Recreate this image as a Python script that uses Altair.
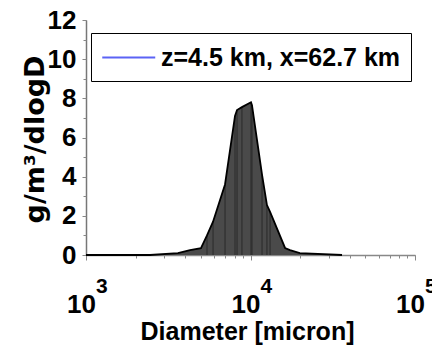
import altair as alt
import pandas as pd

# values
diameter = [1000, 2450, 3620, 4290, 5000, 5440, 5920, 7000, 8050, 8280,
            8870, 10070, 10210, 11750, 12590, 13150, 16220, 17380, 19950, 36000]
mass = [0, 0, 0.1, 0.25, 0.35, 1.0, 1.7, 3.6, 7.1, 7.4,
        7.55, 7.8, 7.65, 4.1, 2.55, 2.2, 0.36, 0.25, 0.1, 0]
series_name = "z=4.5 km, x=62.7 km"
y_major = [0, 2, 4, 6, 8, 10, 12]
y_minor = list(range(0, 13))
x_major = [1000, 10000, 100000]
x_exponent = ["3", "4", "5"]
x_minor = [m * 10 ** k for k in (3, 4) for m in range(1, 10)] + [100000]

df = pd.DataFrame({"D": diameter, "M": mass})
exp_df = pd.DataFrame({"D": x_major, "e": x_exponent})

FONT = "Liberation Sans, Arial, sans-serif"
WIDE = "DejaVu Sans, Arial, sans-serif"

x_scale = alt.Scale(type="log", domain=[1000, 100000], nice=False)
y_scale = alt.Scale(domain=[0, 12], nice=False)

x_main = alt.X(
    "D:Q", scale=x_scale,
    axis=alt.Axis(
        values=x_major,
        labelExpr="'10'",
        title="Diameter [micron]",
        titleFont=FONT, titleFontSize=25, titleFontWeight="bold", titleColor="black",
        titleX=161, titleY=84, titleBaseline="alphabetic", titleAlign="center",
        labelFont=FONT, labelFontSize=26, labelFontWeight="bold", labelColor="black",
        labelBaseline="alphabetic", labelPadding=52, labelAlign="center", labelOffset=-5,
        labelOverlap=False, labelFlush=False,
        tickSize=5, tickColor="#888888", domainColor="#888888", domainWidth=1.5,
        grid=False,
    ),
)
y_main = alt.Y(
    "M:Q", scale=y_scale,
    axis=alt.Axis(
        values=y_major,
        title="g/m³/dlogD",
        titleFont=WIDE, titleFontSize=27, titleFontWeight="bold", titleColor="black",
        titleAngle=270, titleX=-43, titleY=119, titleBaseline="alphabetic", titleAlign="center",
        labelFont=FONT, labelFontSize=26, labelFontWeight="bold", labelColor="black",
        labelPadding=6, labelOverlap=False, labelFlush=False,
        tickSize=4, tickColor="#888888", domainColor="#777777", domainWidth=1.5,
        grid=False,
    ),
)
x_min = alt.X(
    "D:Q", scale=x_scale,
    axis=alt.Axis(values=x_minor, labels=False, title=None, domain=False, grid=False,
                  orient="bottom", tickSize=3, tickColor="#888888"),
)
y_min = alt.Y(
    "M:Q", scale=y_scale,
    axis=alt.Axis(values=y_minor, labels=False, title=None, domain=False, grid=False,
                  orient="left", tickSize=3, tickColor="#888888"),
)

base = alt.Chart(df)

area = base.mark_area(color="#4a4a4a", opacity=1).encode(x=x_main, y=y_main)

rules = base.transform_filter("datum.M > 0.5").transform_calculate(
    Z="0"
).mark_rule(color="#2a2a2a", strokeWidth=1).encode(
    x=alt.X("D:Q", scale=x_scale, axis=None),
    y=alt.Y("Z:Q", scale=y_scale, axis=None),
    y2="M:Q",
)

outline = base.mark_line(color="black", strokeWidth=1.8).encode(x=x_min, y=y_min)

exponents = alt.Chart(exp_df).mark_text(
    font=FONT, fontSize=21, fontWeight="bold", color="black",
    align="left", baseline="alphabetic", dx=10,
).encode(
    x=alt.X("D:Q", scale=x_scale, axis=None),
    y=alt.value(273),
    text="e:N",
)

legend_layer = base.transform_calculate(
    s="'" + series_name + "'"
).transform_filter("datum.M < 0").mark_line().encode(
    x=alt.X("D:Q", scale=x_scale, axis=None),
    y=alt.Y("M:Q", scale=y_scale, axis=None),
    color=alt.Color(
        "s:N",
        scale=alt.Scale(domain=[series_name], range=["#5b63f5"]),
        legend=alt.Legend(
            orient="none", legendX=5, legendY=13, title=None,
            strokeColor="black", fillColor="white", padding=10,
            symbolType="M-1,0H3", symbolSize=702, symbolStrokeWidth=2,
            labelFont=FONT, labelFontSize=25, labelFontWeight="bold",
            labelColor="black", labelOffset=31, labelLimit=500,
        ),
    ),
)

chart = alt.layer(area, rules, outline, exponents, legend_layer).resolve_axis(
    x="independent", y="independent"
).properties(
    width=329, height=235,
    autosize=alt.AutoSizeParams(type="none"),
    padding={"left": 86, "top": 20, "right": 17, "bottom": 96},
).configure_view(stroke=None)

chart.save("out.html", embed_options={"renderer": "svg", "actions": False})
